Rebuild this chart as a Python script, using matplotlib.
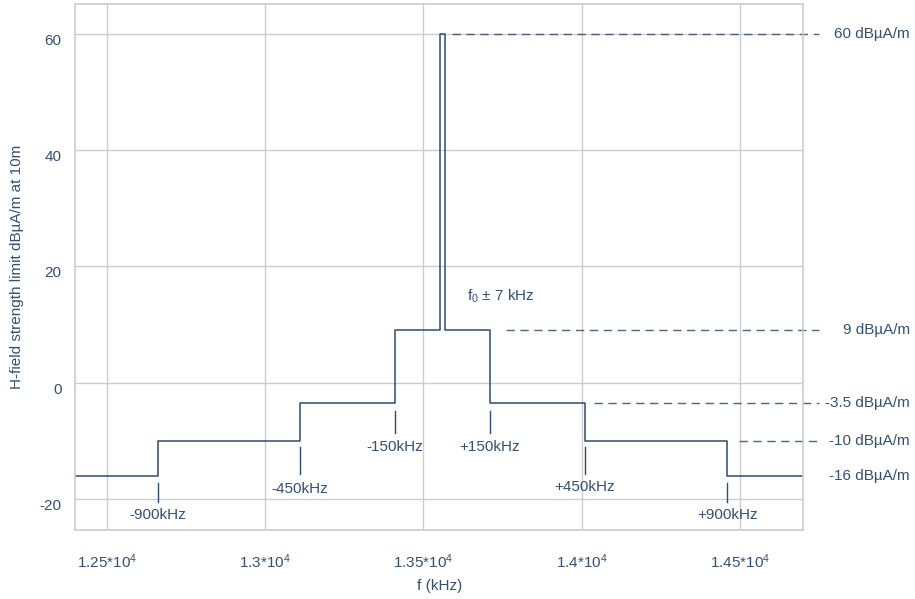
import matplotlib
matplotlib.use("Agg")
import matplotlib.pyplot as plt
import matplotlib.transforms as mtransforms

# ======================================================
# Data: H-field limit mask around f0 = 13.56 MHz (kHz)
# ======================================================
f0 = 13560
edges = [12400, 12660, 13110, 13410, 13553, 13567, 13710, 14010, 14460, 14700]
levels = [-16, -10, -3.5, 9, 60, 9, -3.5, -10, -16]

xticks = [12500, 13000, 13500, 14000, 14500]
xtick_labels = ["1.25*10$^4$", "1.3*10$^4$", "1.35*10$^4$", "1.4*10$^4$", "1.45*10$^4$"]
yticks = [-20, 0, 20, 40, 60]

# offset markers below the steps
offset_names = ["-900kHz", "-450kHz", "-150kHz", "+150kHz", "+450kHz", "+900kHz"]
offset_x = [12660, 13110, 13410, 13710, 14010, 14460]
marker_top = [-17.3, -11.0, -4.8, -4.8, -11.0, -17.3]
marker_bot = [-20.5, -15.7, -8.6, -8.6, -15.7, -20.5]
label_y = [-22.8, -18.3, -11.1, -11.1, -17.9, -22.7]

# level annotations on the right
level_vals = [60, 9, -3.5, -10, -16]
level_names = ["60 dBµA/m", "9 dBµA/m", "-3.5 dBµA/m", "-10 dBµA/m", "-16 dBµA/m"]
dash_start = [13590, 13762, 14040, 14497, None]

TXT = "#34506f"
LINE = "#2f4b6e"
GRID = "#cccccc"

plt.rcParams["font.family"] = ["Liberation Sans", "DejaVu Sans"]
plt.rcParams["mathtext.default"] = "regular"
plt.rcParams["axes.unicode_minus"] = False

fig = plt.figure(figsize=(9.15, 5.99), dpi=100)
ax = fig.add_axes([0.0825, 0.1152, 0.7951, 0.8773])

ax.step(edges, levels + [levels[-1]], where="post", color=LINE, lw=1.1)

ax.set_xlim(12400, 14700)
ax.set_ylim(-25.3, 65)
ax.set_xticks(xticks)
ax.set_xticklabels(xtick_labels)
ax.set_yticks(yticks)
ax.grid(True, color=GRID, lw=1)
ax.set_axisbelow(True)
for s in ax.spines.values():
    s.set_color(GRID)
    s.set_linewidth(1.2)
ax.tick_params(length=0, colors=TXT, labelsize=11)
ax.tick_params(axis="x", pad=16)
ax.tick_params(axis="y", pad=10)
# y labels sit a little below the grid lines
for lab in ax.get_yticklabels():
    lab.set_transform(lab.get_transform() + mtransforms.ScaledTranslation(0, -4 / 72, fig.dpi_scale_trans))

ax.set_xlabel("f (kHz)", color=TXT, fontsize=11, labelpad=6)
ax.set_ylabel("H-field strength limit dBµA/m at 10m", color=TXT, fontsize=11, labelpad=11)

# step markers and labels
for name, x, yt, yb, yl in zip(offset_names, offset_x, marker_top, marker_bot, label_y):
    ax.plot([x, x], [yt, yb], color=LINE, lw=1)
    ax.text(x, yl, name, ha="center", va="center", color=TXT, fontsize=11)

ax.text(13639, 14.8, "f$_0$ ± 7 kHz", ha="left", va="center", color=TXT, fontsize=11)

# dashed level lines and labels outside the plot
trans = mtransforms.blended_transform_factory(fig.transFigure, ax.transData)
for v, name, xs in zip(level_vals, level_names, dash_start):
    if xs is not None:
        ax.plot([xs, 14750], [v, v], color=LINE, lw=1, ls=(0, (6, 4)), alpha=0.85, clip_on=False)
    ax.text(910 / 915, v, name, transform=trans, ha="right", va="center", color=TXT, fontsize=11)

fig.savefig("out.png", dpi=100)
